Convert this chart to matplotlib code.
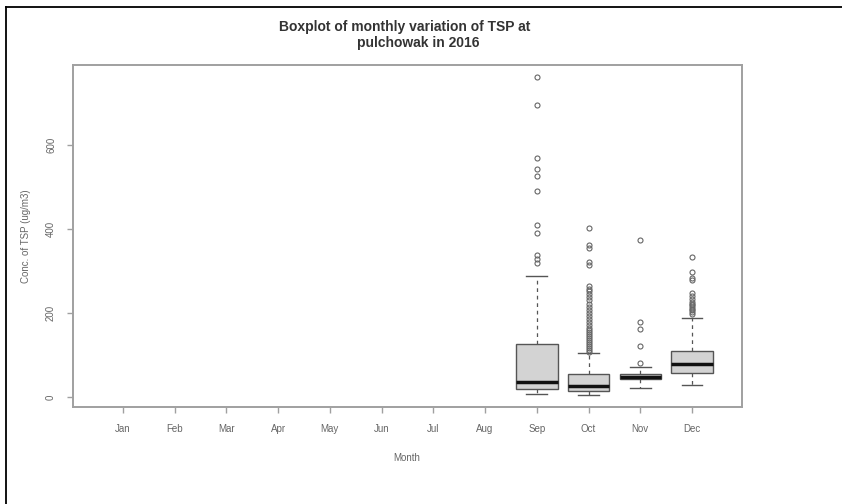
import matplotlib
matplotlib.use("Agg")
import matplotlib.pyplot as plt
from matplotlib.lines import Line2D

months = ["Jan", "Feb", "Mar", "Apr", "May", "Jun", "Jul", "Aug", "Sep", "Oct", "Nov", "Dec"]
# monthly box statistics (only Sep-Dec have data)
data_months = ["Sep", "Oct", "Nov", "Dec"]
whislo = [6, 5, 21, 29]
q1 = [18, 13, 42, 58]
med = [36, 26, 48, 79]
q3 = [127, 54, 54, 110]
whishi = [287, 104, 72, 189]
out_sep = [761, 694, 568, 543, 525, 491, 409, 390, 338, 329, 318]
out_oct = [108, 112, 116, 120, 125, 130, 135, 140, 145, 150, 155, 160, 165, 172, 178,
           185, 192, 200, 208, 215, 222, 230, 238, 245, 252, 258, 265, 314, 322, 355, 362, 402]
out_nov = [80, 121, 161, 179, 374]
out_dec = [198, 202, 206, 210, 214, 218, 222, 226, 232, 240, 247, 278, 283, 298, 334]
outliers = [out_sep, out_oct, out_nov, out_dec]
yticks = [0, 200, 400, 600]

W, H = 842, 504
fig = plt.figure(figsize=(W / 100, H / 100), dpi=100)
plt.rcParams['font.family'] = ['Liberation Sans', 'DejaVu Sans']

ax = fig.add_axes([72.7 / W, 1 - 407 / H, (741.7 - 72.7) / W, (407 - 65) / H])

stats = []
for i, m in enumerate(data_months):
    stats.append(dict(label=m, whislo=whislo[i], q1=q1[i], med=med[i], q3=q3[i],
                      whishi=whishi[i], fliers=outliers[i]))
positions = [months.index(m) + 1 for m in data_months]

edge = "#555555"
ax.bxp(stats, positions=positions, widths=0.8, patch_artist=True,
       boxprops=dict(facecolor="#d3d3d3", edgecolor=edge, linewidth=1.0),
       medianprops=dict(color="#111111", linewidth=2.5),
       whiskerprops=dict(color=edge, linestyle=(0, (3, 3)), linewidth=0.9),
       capprops=dict(color=edge, linewidth=1.0),
       capwidths=0.4,
       flierprops=dict(marker="o", markerfacecolor="none", markeredgecolor="#666666",
                       markersize=3.6, markeredgewidth=0.8, linestyle="none"),
       showfliers=True)

ax.set_xlim(0.03, 12.96)
ax.set_ylim(-24, 790)
ax.set_xticks(range(1, 13))
ax.set_xticklabels(months)
ax.set_yticks(yticks)
ax.set_yticklabels([str(v) for v in yticks], rotation=90, va="center")

axcol = "#a0a0a0"
txtcol = "#666666"
for s in ax.spines.values():
    s.set_color(axcol)
    s.set_linewidth(1.4)
ax.tick_params(axis="both", colors=axcol, labelcolor=txtcol, labelsize=7, length=4, width=1)
ax.tick_params(axis="x", pad=8)
ax.tick_params(axis="y", pad=8)

fig.text(405 / W, 1 - 27 / H, "Boxplot of monthly variation of TSP at", ha="center", va="center",
         fontsize=10, fontweight="bold", color="#333333")
fig.text(418 / W, 1 - 43 / H, "pulchowak in 2016", ha="center", va="center",
         fontsize=10, fontweight="bold", color="#333333")
fig.text(407 / W, 1 - 458 / H, "Month", ha="center", va="center", fontsize=7, color=txtcol)
fig.text(26 / W, 1 - 236 / H, "Conc. of TSP (ug/m3)", ha="center", va="center", rotation=90,
         fontsize=7, color=txtcol)

# outer page frame
fig.add_artist(Line2D([5.7 / W, 5.7 / W], [0, 1 - 7 / H], transform=fig.transFigure,
                      color="black", linewidth=1.3))
fig.add_artist(Line2D([5.7 / W, 1], [1 - 7 / H, 1 - 7 / H], transform=fig.transFigure,
                      color="black", linewidth=1.3))

fig.savefig("out.png", dpi=100)
